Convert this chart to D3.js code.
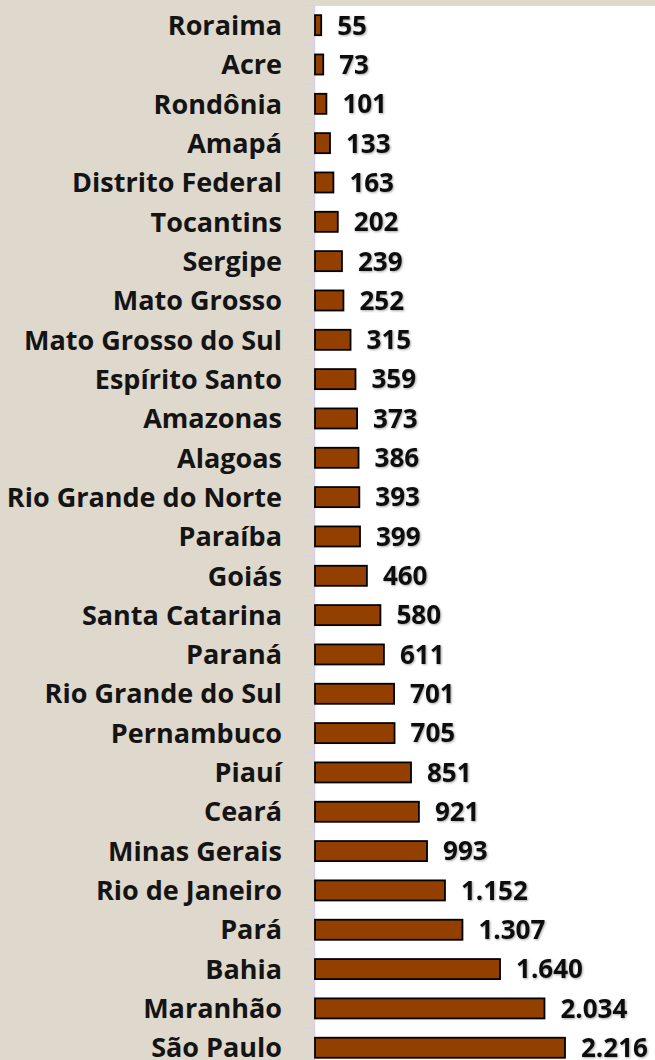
<!DOCTYPE html>
<html>
<head>
<meta charset="utf-8">
<script src="https://cdnjs.cloudflare.com/ajax/libs/d3/7.8.5/d3.min.js"></script>
<style>
  body { margin: 0; background: #dfd8cc; }
  svg { display: block; }
</style>
</head>
<body>
<svg></svg>
<script>
let estados = ['Roraima', 'Acre', 'Rondônia', 'Amapá', 'Distrito Federal', 'Tocantins', 'Sergipe',
  'Mato Grosso', 'Mato Grosso do Sul', 'Espírito Santo', 'Amazonas', 'Alagoas', 'Rio Grande do Norte',
  'Paraíba', 'Goiás', 'Santa Catarina', 'Paraná', 'Rio Grande do Sul', 'Pernambuco', 'Piauí', 'Ceará',
  'Minas Gerais', 'Rio de Janeiro', 'Pará', 'Bahia', 'Maranhão', 'São Paulo']
let valores = [55, 73, 101, 133, 163, 202, 239, 252, 315, 359, 373, 386, 393, 399, 460, 580, 611,
  701, 705, 851, 921, 993, 1152, 1307, 1640, 2034, 2216]

let width = 655
let height = 1060
let plotLeft = 314
let plotTop = 5.5
// o gráfico original é cortado embaixo
let plotBottom = 5.5 + 27 * 39.33

let svg = d3.select('svg')
  .attr('width', width)
  .attr('height', height)

let ptBR = d3.formatLocale({ decimal: ',', thousands: '.', grouping: [3], currency: ['R$', ''] })
let fmt = ptBR.format(',')

let yScale = d3.scaleBand()
  .domain(estados)
  .range([plotTop, plotBottom])
  .paddingInner(0.49)
  .paddingOuter(0.245)

let xScale = d3.scaleLinear()
  .domain([0, 2216])
  .range([plotLeft + 1, plotLeft + 251])

// sombra dos rótulos
let defs = svg.append('defs')
let f = defs.append('filter').attr('id', 'sombra').attr('x', '-20%').attr('y', '-20%')
  .attr('width', '140%').attr('height', '140%')
f.append('feDropShadow').attr('dx', 1).attr('dy', 1).attr('stdDeviation', 0.8)
  .attr('flood-color', '#000').attr('flood-opacity', 0.35)

// área do gráfico
svg.append('rect')
  .attr('x', plotLeft)
  .attr('y', plotTop)
  .attr('width', width - plotLeft)
  .attr('height', plotBottom - plotTop)
  .attr('fill', '#ffffff')

svg.append('line')
  .attr('x1', plotLeft)
  .attr('x2', width)
  .attr('y1', plotTop)
  .attr('y2', plotTop)
  .attr('stroke', '#ddd6f2')
  .attr('stroke-width', 1)

// eixo y
let yAxis = d3.axisLeft(yScale).tickSize(0).tickFormat('')
let gy = svg.append('g')
  .attr('transform', 'translate(' + plotLeft + ',0)')
  .call(yAxis)
gy.select('.domain').attr('stroke', '#d8d0f0').attr('stroke-width', 1.5)

let bordas = d3.range(estados.length + 1).map((i) => plotTop + i * yScale.step())
gy.selectAll('.borda')
  .data(bordas)
  .enter()
  .append('line')
  .attr('class', 'borda')
  .attr('x1', -11)
  .attr('x2', 0)
  .attr('y1', (d) => d)
  .attr('y2', (d) => d)
  .attr('stroke', '#d8d0f0')
  .attr('stroke-width', 1)

// nomes
svg.selectAll('.nome')
  .data(estados)
  .enter()
  .append('text')
  .attr('class', 'nome')
  .attr('x', 282)
  .attr('y', (d) => yScale(d) + yScale.bandwidth() / 2)
  .attr('dy', '0.36em')
  .attr('text-anchor', 'end')
  .attr('font-family', 'Open Sans, sans-serif')
  .attr('font-weight', 'bold')
  .attr('font-size', 27)
  .attr('fill', '#141414')
  .text((d) => d)

// barras
svg.selectAll('.bar')
  .data(valores)
  .enter()
  .append('rect')
  .attr('class', 'bar')
  .attr('x', xScale(0))
  .attr('y', (d, i) => yScale(estados[i]))
  .attr('width', (d) => xScale(d) - xScale(0))
  .attr('height', yScale.bandwidth())
  .attr('fill', '#933f00')
  .attr('stroke', '#000')
  .attr('stroke-width', 1.8)

// valores
svg.selectAll('.valor')
  .data(valores)
  .enter()
  .append('text')
  .attr('class', 'valor')
  .attr('x', (d) => xScale(d) + 16)
  .attr('y', (d, i) => yScale(estados[i]) + yScale.bandwidth() / 2)
  .attr('dy', '0.36em')
  .attr('font-family', 'Open Sans, sans-serif')
  .attr('font-weight', 'bold')
  .attr('font-size', 26)
  .attr('fill', '#111')
  .attr('filter', 'url(#sombra)')
  .text((d) => fmt(d))
</script>
</body>
</html>
